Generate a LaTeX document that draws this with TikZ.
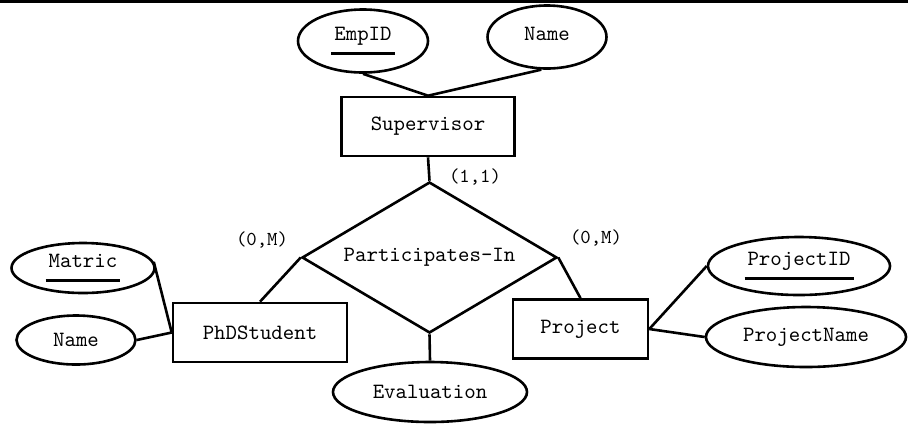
\documentclass[tikz,border=0pt]{standalone}
\usepackage{fontspec}
\usetikzlibrary{shapes.geometric}

\newcommand{\keyattr}[1]{\setbox0\hbox{#1}\dp0=0pt
  \vtop{\hbox{\kern1.5pt\box0\kern1.5pt}\vskip5.5pt\hrule height 1.5pt}}

\begin{document}
\begin{tikzpicture}[x=0.5pt,y=-0.5pt,
    every node/.style={font=\ttfamily\fontsize{10.9}{12}\selectfont, inner sep=0pt},
    entity/.style={draw, rectangle, line width=1.3pt, minimum height=29.5pt},
    attr/.style={draw, ellipse, line width=1.3pt},
    rel/.style={draw, diamond, aspect=1.69, line width=1.3pt, minimum width=127.5pt, minimum height=75.5pt},
    card/.style={font=\ttfamily\fontsize{9.9}{11}\selectfont},
    link/.style={line width=1.3pt}]

    \useasboundingbox (0,0) rectangle (908,425);
    \draw[line width=1.6pt] (0,1.5) -- (908,1.5);

    \node[entity, minimum width=86.5pt] (sup) at (428,126.5) {Supervisor};
    \node[entity, minimum width=87pt] (phd) at (260,332.5) {PhDStudent};
    \node[entity, minimum width=67.5pt] (proj) at (580.5,329) {Project};

    \node[rel] (part) at (429.5,257.5) {Participates-In};

    \node[attr, minimum width=65pt, minimum height=31.5pt] (empid) at (363,41) {\keyattr{EmpID}};
    \node[attr, minimum width=59.5pt, minimum height=31.5pt] (supname) at (547,37) {\raisebox{3pt}{Name}};
    \node[attr, minimum width=71.5pt, minimum height=25pt] (matric) at (83,268) {\keyattr{Matric}};
    \node[attr, minimum width=59.5pt, minimum height=24.5pt] (phdname) at (76,340) {Name};
    \node[attr, minimum width=91pt, minimum height=29pt] (projid) at (799,266) {\keyattr{ProjectID}};
    \node[attr, minimum width=100pt, minimum height=30pt] (projname) at (806,337) {ProjectName};
    \node[attr, minimum width=97pt, minimum height=30pt] (eval) at (430,392) {Evaluation};

    \node[card] (c1) at (475,177) {(1,1)};
    \node[card] (c2) at (262,240) {(0,M)};
    \node[card] (c3) at (596,238) {(0,M)};

    \foreach \a/\b in {empid.south/sup.north, supname.260/sup.north, sup.south/part.north,
        part.west/phd.north, part.east/proj.north, part.south/eval.north,
        matric.5/phd.west, phdname.east/phd.west, proj.east/projid.west, proj.east/projname.west}
    \draw[link] (\a) -- (\b);

\end{tikzpicture}
\end{document}
